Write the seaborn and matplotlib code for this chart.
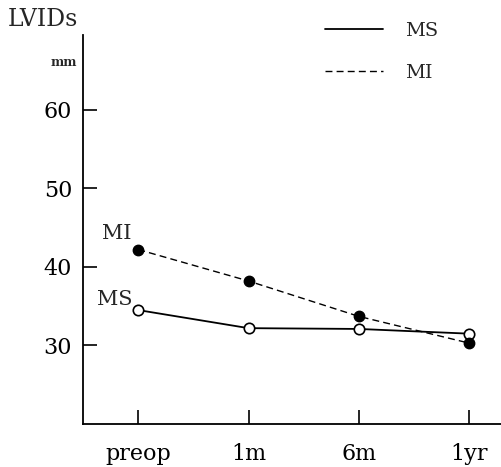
import numpy as np
import seaborn as sns
from matplotlib import pyplot as plt
from matplotlib.lines import Line2D

periods = ['preop', '1m', '6m', '1yr']
ms_values = [34.5, 32.2, 32.1, 31.5]
mi_values = [42.2, 38.2, 33.7, 30.3]
y_ticks = [30, 40, 50, 60]

sns.set_style('ticks')
plt.rcParams['font.family'] = ['DejaVu Serif', 'Liberation Serif']

fig = plt.figure(figsize=(5.01, 4.67), dpi=100)
ax = fig.add_axes([0.166, 0.092, 0.834, 0.833])

pos = np.arange(len(periods))
sns.lineplot(x=pos, y=ms_values, ax=ax, color='black', linewidth=1.3, linestyle='-',
             marker='o', markersize=7.5, markerfacecolor='white', markeredgecolor='black',
             markeredgewidth=1.2)
sns.lineplot(x=pos, y=mi_values, ax=ax, color='black', linewidth=1.0, linestyle=(0, (5, 3)),
             marker='o', markersize=7.5, markerfacecolor='black', markeredgecolor='black',
             markeredgewidth=1.0)

ax.set_xlim(-0.5, 3.29)
ax.set_ylim(20, 69.5)
ax.set_xticks(pos)
ax.set_xticklabels(periods)
ax.set_yticks(y_ticks)
ax.tick_params(axis='both', direction='in', length=10, width=1.2, labelsize=16, pad=8, colors='black')
ax.tick_params(axis='x', pad=14)
for side in ['top', 'right']:
    ax.spines[side].set_visible(False)
for side in ['left', 'bottom']:
    ax.spines[side].set_linewidth(1.3)
    ax.spines[side].set_color('black')

ax.text(-0.33, 43.0, 'MI', fontsize=15, ha='left', va='bottom')
ax.text(-0.37, 34.6, 'MS', fontsize=15, ha='left', va='bottom')

fig.text(0.016, 0.958, 'LVIDs', fontsize=17, ha='left', va='center')
fig.text(0.1, 0.867, 'mm', fontsize=9, ha='left', va='center', fontweight='bold')

handles = [Line2D([], [], color='black', linewidth=1.3, linestyle='-'),
           Line2D([], [], color='black', linewidth=1.0, linestyle=(0, (5, 3)))]
fig.legend(handles, ['MS', 'MI'], loc='upper left', bbox_to_anchor=(0.649, 0.953),
           frameon=False, fontsize=14, handlelength=3.0, handletextpad=1.1, labelspacing=1.25,
           borderpad=0, borderaxespad=0)

plt.savefig('out.png', dpi=100)
